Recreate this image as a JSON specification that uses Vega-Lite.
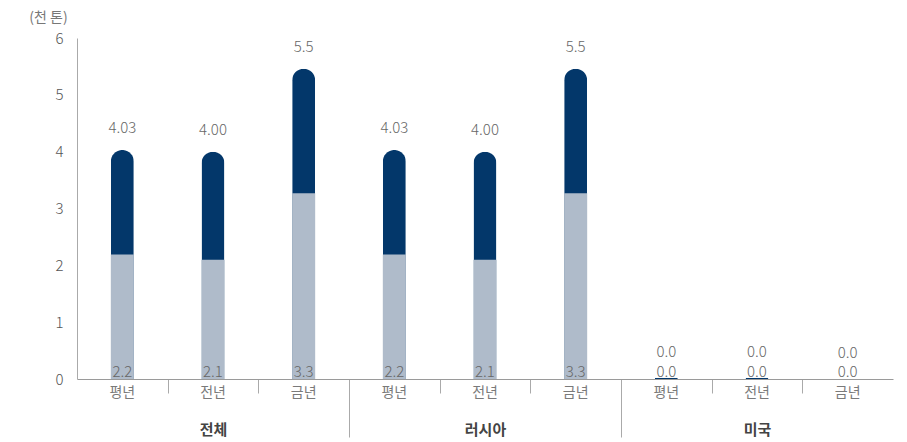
{
  "$schema": "https://vega.github.io/schema/vega-lite/v6.json",
  "width": 816,
  "height": 341,
  "autosize": "none",
  "padding": {"left": 77, "top": 38, "right": 14, "bottom": 63},
  "config": {"view": {"stroke": null}, "font": "Noto Sans CJK KR"},
  "data": {
    "values": [
      {"group": "전체", "cat": "평년", "key": "전체|평년", "total": 4.03, "low": 2.19, "totalLabel": "4.03", "lowLabel": "2.2"},
      {"group": "전체", "cat": "전년", "key": "전체|전년", "total": 4.0, "low": 2.1, "totalLabel": "4.00", "lowLabel": "2.1"},
      {"group": "전체", "cat": "금년", "key": "전체|금년", "total": 5.46, "low": 3.27, "totalLabel": "5.5", "lowLabel": "3.3"},
      {"group": "러시아", "cat": "평년", "key": "러시아|평년", "total": 4.03, "low": 2.19, "totalLabel": "4.03", "lowLabel": "2.2"},
      {"group": "러시아", "cat": "전년", "key": "러시아|전년", "total": 4.0, "low": 2.1, "totalLabel": "4.00", "lowLabel": "2.1"},
      {"group": "러시아", "cat": "금년", "key": "러시아|금년", "total": 5.46, "low": 3.27, "totalLabel": "5.5", "lowLabel": "3.3"},
      {"group": "미국", "cat": "평년", "key": "미국|평년", "total": 0.02, "low": 0, "totalLabel": "0.0", "lowLabel": "0.0"},
      {"group": "미국", "cat": "전년", "key": "미국|전년", "total": 0.02, "low": 0, "totalLabel": "0.0", "lowLabel": "0.0"},
      {"group": "미국", "cat": "금년", "key": "미국|금년", "total": 0, "low": 0, "totalLabel": "0.0", "lowLabel": "0.0"}
    ]
  },
  "layer": [
    {
      "mark": {"type": "point", "opacity": 0},
      "encoding": {
        "x": {
          "field": "key",
          "type": "nominal",
          "scale": {
            "domain": ["전체|평년", "전체|전년", "전체|금년", "러시아|평년", "러시아|전년", "러시아|금년", "미국|평년", "미국|전년", "미국|금년"],
            "paddingInner": 0,
            "paddingOuter": 0
          },
          "axis": {
            "title": null,
            "orient": "bottom",
            "values": ["전체|전년", "전체|금년", "러시아|전년", "러시아|금년", "미국|전년", "미국|금년"],
            "tickOffset": -45.33,
            "labels": false,
            "domain": false,
            "tickSize": 14,
            "tickColor": "#aaaaaa"
          }
        }
      }
    },
    {
      "mark": {"type": "point", "opacity": 0},
      "encoding": {
        "x": {
          "field": "group",
          "type": "nominal",
          "scale": {"domain": ["전체", "러시아", "미국"], "paddingInner": 0, "paddingOuter": 0},
          "axis": {
            "title": null,
            "orient": "bottom",
            "labelAngle": 0,
            "domain": false,
            "ticks": false,
            "labelFontSize": 15,
            "labelFontWeight": "bold",
            "labelColor": "#444444",
            "labelBaseline": "top",
            "labelPadding": 43
          }
        }
      }
    },
    {
      "mark": {"type": "point", "opacity": 0},
      "encoding": {
        "x": {
          "field": "group",
          "type": "nominal",
          "scale": {"domain": ["전체", "러시아", "미국"], "paddingInner": 0, "paddingOuter": 0},
          "axis": {
            "title": null,
            "orient": "bottom",
            "values": ["러시아", "미국"],
            "tickOffset": -136,
            "labels": false,
            "domain": false,
            "tickSize": 58,
            "tickColor": "#aaaaaa"
          }
        }
      }
    },
    {
      "encoding": {
        "x": {
          "field": "key",
          "type": "nominal",
          "scale": {
            "domain": ["전체|평년", "전체|전년", "전체|금년", "러시아|평년", "러시아|전년", "러시아|금년", "미국|평년", "미국|전년", "미국|금년"],
            "paddingInner": 0,
            "paddingOuter": 0
          },
          "axis": {
            "title": null,
            "orient": "bottom",
            "labelAngle": 0,
            "labelExpr": "split(datum.label, '|')[1]",
            "labelFontSize": 14,
            "labelColor": "#7a7a7a",
            "labelPadding": 6,
            "labelBaseline": "top",
            "domainColor": "#9a9a9a",
            "ticks": false
          }
        }
      },
      "layer": [
        {
          "mark": {"type": "bar", "width": 23, "color": "#03376a", "cornerRadiusTopLeft": 11.5, "cornerRadiusTopRight": 11.5},
          "encoding": {
            "y": {
              "field": "total",
              "type": "quantitative",
              "scale": {"domain": [0, 6], "nice": false},
              "axis": {
                "title": "(천 톤)",
                "titleAngle": 0,
                "titleAlign": "center",
                "titleBaseline": "middle",
                "titleX": -29,
                "titleY": -21,
                "titleFontSize": 14,
                "titleFontWeight": "normal",
                "titleColor": "#777777",
                "values": [0, 1, 2, 3, 4, 5, 6],
                "format": "d",
                "grid": false,
                "ticks": false,
                "labelPadding": 14,
                "labelFontSize": 15,
                "labelFontWeight": 300,
                "labelColor": "#555555",
                "domainColor": "#aaaaaa"
              }
            }
          }
        },
        {
          "mark": {"type": "bar", "width": 23, "color": "#afbbca"},
          "encoding": {"y": {"field": "low", "type": "quantitative"}}
        },
        {
          "transform": [{"filter": "datum.group !== '미국'"}],
          "mark": {"type": "text", "dy": -17, "baseline": "alphabetic", "fontSize": 15, "fontWeight": 300, "color": "#666666"},
          "encoding": {
            "y": {"field": "total", "type": "quantitative"},
            "text": {"field": "totalLabel"}
          }
        },
        {
          "transform": [{"filter": "datum.group === '미국'"}],
          "mark": {"type": "text", "dy": -21, "baseline": "alphabetic", "fontSize": 15, "fontWeight": 300, "color": "#666666"},
          "encoding": {
            "y": {"field": "total", "type": "quantitative"},
            "text": {"field": "totalLabel"}
          }
        },
        {
          "mark": {"type": "text", "dy": -2, "baseline": "alphabetic", "fontSize": 15, "fontWeight": 300, "color": "#666666"},
          "encoding": {
            "y": {"datum": 0, "type": "quantitative"},
            "text": {"field": "lowLabel"}
          }
        }
      ]
    }
  ],
  "resolve": {"scale": {"x": "independent"}, "axis": {"x": "independent"}}
}
